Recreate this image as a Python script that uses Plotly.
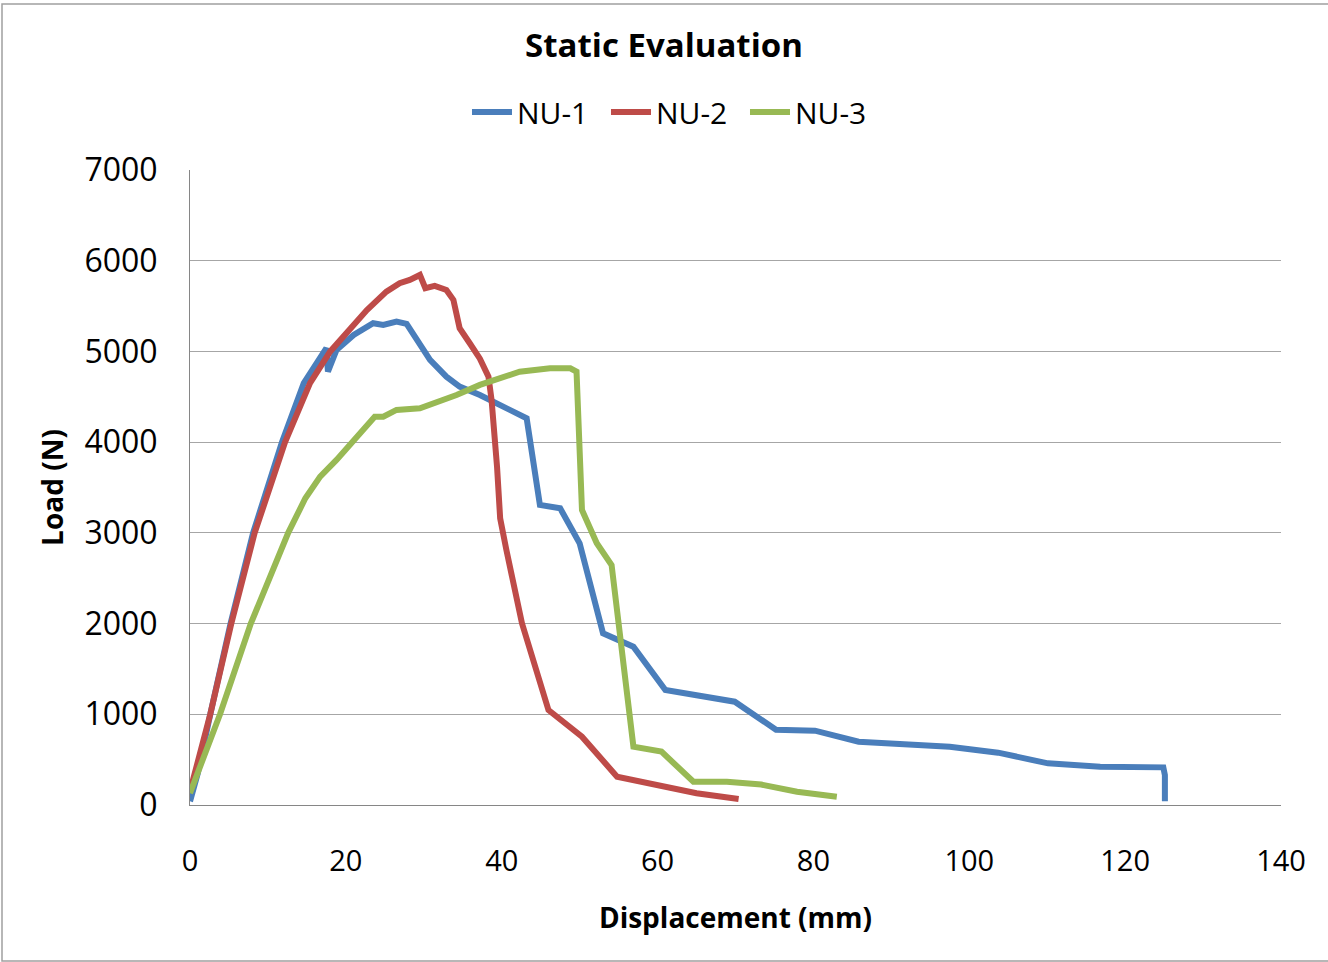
import plotly.graph_objects as go

# NU-1
nu1_x = [0, 1, 2.6, 5.2, 8.1, 11.8, 14.6, 16.5, 17.5, 17.7, 18.8, 21, 23.5, 24.8, 26.5, 27.8, 29.5, 30.8,
         32.9, 34.6, 37.2, 38.5, 43.2, 44.9, 47.5, 50, 53, 56.9, 61, 69.9, 75.2, 80.2, 85.8, 97.5, 103.7,
         110.1, 116.8, 124.9, 125.1, 125.1]
nu1_y = [40, 350, 1000, 2000, 3000, 4000, 4650, 4900, 5035, 4777, 5017, 5182, 5311, 5292, 5329, 5303, 5072, 4906,
         4722, 4612, 4520, 4465, 4263, 3308, 3271, 2885, 1893, 1745, 1268, 1139, 830, 819, 698, 643, 577,
         459, 423, 415, 330, 40]

# NU-2
nu2_x = [0, 2.6, 5.3, 8.3, 12.2, 15.4, 18, 19.2, 21, 22.7, 25.2, 26.9, 28.2, 29.5, 30.2, 31.4, 32.9, 33.8,
         34.6, 35.9, 37.2, 38.3, 38.7, 39.4, 39.8, 40.6, 42.6, 46, 50.3, 54.8, 59.5, 65, 70.4]
nu2_y = [150, 1000, 2000, 3000, 4000, 4650, 5000, 5126, 5292, 5457, 5659, 5752, 5788, 5843, 5697, 5722, 5678, 5568,
         5256, 5090, 4920, 4722, 4465, 3730, 3160, 2811, 2003, 1047, 753, 312, 220, 129, 66]

# NU-3
nu3_x = [0, 3.85, 7.8, 12.6, 14.8, 16.7, 18.8, 21, 23.7, 24.8, 26.5, 29.5, 32.1, 34.2, 37.2, 38.5, 42.3, 46.2,
         48.8, 49.6, 50.3, 52.2, 54.1, 56.9, 60.5, 64.6, 68.9, 73.3, 77.9, 83]
nu3_y = [130, 1000, 2000, 3000, 3381, 3620, 3804, 4024, 4281, 4281, 4355, 4373, 4447, 4520, 4631, 4667, 4777, 4814,
         4814, 4777, 3252, 2885, 2646, 643, 588, 257, 257, 225, 147, 92]

names = ["NU-1", "NU-2", "NU-3"]
colors = ["#4A7EBB", "#BE4B48", "#98B954"]
x_ticks = [0, 20, 40, 60, 80, 100, 120, 140]
y_ticks = [0, 1000, 2000, 3000, 4000, 5000, 6000, 7000]

fig = go.Figure()
for xs, ys, nm, c in zip([nu1_x, nu2_x, nu3_x], [nu1_y, nu2_y, nu3_y], names, colors):
    fig.add_trace(go.Scatter(x=xs, y=ys, mode="lines", name=nm,
                             line=dict(color=c, width=6)))

W, H = 1328, 962
L, R, T, B = 190, 1281, 170, 805
fig.update_layout(
    width=W, height=H,
    margin=dict(l=L, r=W - R, t=T, b=H - B),
    paper_bgcolor="white", plot_bgcolor="white",
    font=dict(family="Open Sans, Liberation Sans, sans-serif", color="black"),
    title=dict(text="<b>Static Evaluation</b>", x=0.5, xanchor="center", y=1 - 45 / H, yanchor="middle",
               font=dict(size=33, color="black")),
    legend=dict(orientation="h", x=0.445, xanchor="center", y=(B - 112) / (B - T), yanchor="middle",
                font=dict(size=30), tracegroupgap=0, entrywidth=84, itemwidth=40,
                bgcolor="rgba(0,0,0,0)"),
    showlegend=True,
)
fig.update_xaxes(range=[0, 140], tickvals=x_ticks, showgrid=False, zeroline=False,
                 showline=True, linecolor="#868686", linewidth=1, ticks="",
                 tickfont=dict(size=29), ticklabelstandoff=30,
                 title=dict(text="<b>Displacement (mm)</b>", font=dict(size=28), standoff=30))
fig.update_yaxes(range=[0, 7000], tickvals=y_ticks, showgrid=True, gridcolor="#A6A6A6", gridwidth=1,
                 zeroline=False, showline=True, linecolor="#868686", linewidth=1, ticks="",
                 tickfont=dict(size=32), ticklabelstandoff=25,
                 title=dict(text="<b>Load (N)</b>", font=dict(size=28), standoff=12))

# outer chart border
fig.add_shape(type="rect", xref="paper", yref="paper",
              x0=(2 - L) / (R - L), x1=(1340 - L) / (R - L),
              y0=(B - 961) / (B - T), y1=(B - 4) / (B - T),
              line=dict(color="#A0A0A0", width=1.5), layer="below")

fig.write_html("out.html", config={"displayModeBar": False},
               post_script="document.body.style.margin='0';")
